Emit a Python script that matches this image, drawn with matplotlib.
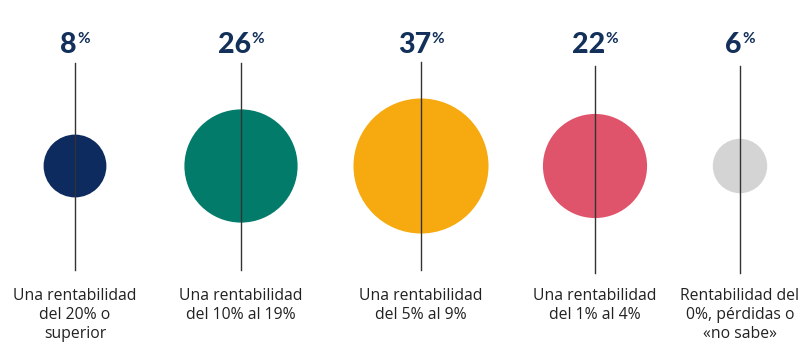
import matplotlib
matplotlib.use("Agg")
import matplotlib.pyplot as plt
from matplotlib.patches import Circle
import numpy as np

values = [8, 26, 37, 22, 6]
labels = ["Una rentabilidad\ndel 20% o\nsuperior",
          "Una rentabilidad\ndel 10% al 19%",
          "Una rentabilidad\ndel 5% al 9%",
          "Una rentabilidad\ndel 1% al 4%",
          "Rentabilidad del\n0%, pérdidas o\n«no sabe»"]
colors = ["#0d2b5e", "#037b6b", "#f6aa10", "#e0546b", "#d4d4d4"]

xs = [75, 241, 421, 595, 740]
line_top = [63, 63, 62, 66, 66]
line_bot = [270, 270, 270, 273, 273]
cy = 166
k = 11.1

fig = plt.figure(figsize=(8.12, 3.55), dpi=100)
ax = fig.add_axes([0, 0, 1, 1])
ax.set_xlim(0, 812)
ax.set_ylim(355, 0)
ax.axis("off")

for x, v, c, lt, lb in zip(xs, values, colors, line_top, line_bot):
    ax.add_patch(Circle((x, cy), k * np.sqrt(v), facecolor=c, edgecolor="none", zorder=1))
    ax.plot([x, x], [lt, lb], color="#333333", lw=1.0, zorder=2)

fig.canvas.draw()
renderer = fig.canvas.get_renderer()
numcolor = "#13305a"
for x, v in zip(xs, values):
    t = ax.text(0, 53, str(v), fontsize=20.5, fontweight="black", family="Lato",
                color=numcolor, ha="left", va="baseline")
    p = ax.text(0, 32, "%", fontsize=11, fontweight="bold", family="Lato",
                color=numcolor, ha="left", va="top")
    wn = t.get_window_extent(renderer).width
    wp = p.get_window_extent(renderer).width
    total = wn + wp
    x0 = x - total / 2
    t.set_x(x0)
    p.set_x(x0 + wn)

for x, lab in zip(xs, labels):
    ax.text(x, 288.5, lab, fontsize=11.3, family="Open Sans", color="#222222",
            ha="center", va="top", linespacing=1.22)

fig.savefig("out.png", dpi=100)
